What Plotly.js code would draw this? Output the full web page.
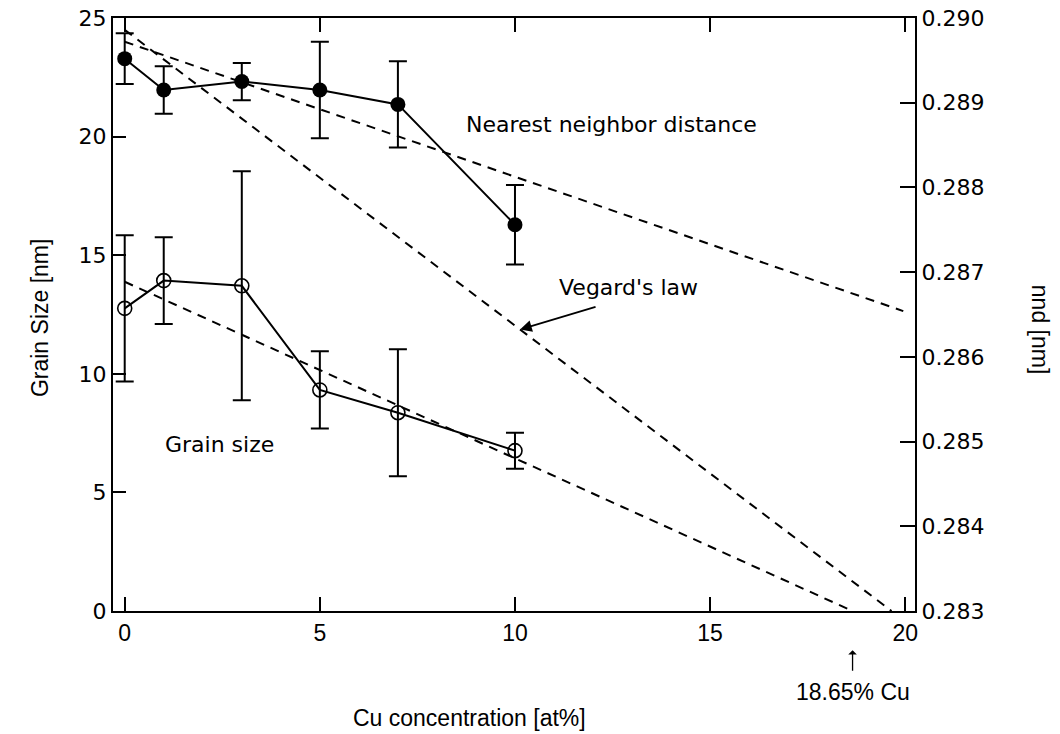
<!DOCTYPE html>
<html>
<head>
<meta charset="utf-8">
<script src="https://cdn.plot.ly/plotly-3.0.1.min.js"></script>
<style>
  html, body { margin: 0; padding: 0; background: #fff; }
  #chart { width: 1060px; height: 734px; }
</style>
</head>
<body>
<div id="chart"></div>
<script>
// Cu concentration of the measured samples [at%]
const cuConc = [0, 1, 3, 5, 7, 10];

// Nearest neighbor distance (right axis) and its error [nm]
const nndVal = [0.28952, 0.28915, 0.28925, 0.28915, 0.28898, 0.28756];
const nndErr = [0.00030, 0.00028, 0.00022, 0.00057, 0.00051, 0.00047];

// Grain size (left axis) and its error [nm]
const grainVal = [12.76, 13.93, 13.71, 9.32, 8.36, 6.76];
const grainErr = [3.08, 1.83, 4.83, 1.63, 2.68, 0.76];

// Linear trend of the nearest neighbor distance
const nndFitX = [0, 19.95];
const nndFitY = [0.28972, 0.28654];

// Vegard's law prediction of the nearest neighbor distance
const vegardX = [0, 19.65];
const vegardY = [0.28986, 0.28300];

// Linear trend of the grain size, reaching zero at 18.65 at% Cu
const grainFitX = [0, 18.65];
const grainFitY = [13.88, 0];
const zeroGrainCu = 18.65;

// Point on the Vegard's law line where the label arrow lands
const vegardArrowX = 10.13;

const FONT = 'DejaVu Sans, Verdana, sans-serif';
const NARROW = 'Liberation Sans Narrow, Liberation Sans, Arial, sans-serif';
const dashStyle = { color: '#000', width: 2, dash: '9px,7px' };

function lineAt(xs, ys, x) {
  const t = (x - xs[0]) / (xs[1] - xs[0]);
  return ys[0] + t * (ys[1] - ys[0]);
}

const traces = [
  { x: nndFitX, y: nndFitY, yaxis: 'y2', mode: 'lines', line: dashStyle, hoverinfo: 'skip' },
  { x: vegardX, y: vegardY, yaxis: 'y2', mode: 'lines', line: dashStyle, hoverinfo: 'skip' },
  { x: grainFitX, y: grainFitY, yaxis: 'y', mode: 'lines', line: dashStyle, hoverinfo: 'skip' },
  {
    x: cuConc, y: grainVal, yaxis: 'y', mode: 'lines+markers',
    line: { color: '#000', width: 2 },
    marker: { symbol: 'circle-open', size: 14, color: '#000', line: { width: 1.6, color: '#000' } },
    error_y: { type: 'data', array: grainErr, visible: true, color: '#000', thickness: 2, width: 9 }
  },
  {
    x: cuConc, y: nndVal, yaxis: 'y2', mode: 'lines+markers',
    line: { color: '#000', width: 2 },
    marker: { symbol: 'circle', size: 15, color: '#000' },
    error_y: { type: 'data', array: nndErr, visible: true, color: '#000', thickness: 2, width: 9 }
  }
];

function label(text, xref, yref, x, y, font, extra) {
  return Object.assign({
    text: text, xref: xref, yref: yref, x: x, y: y,
    xanchor: 'center', yanchor: 'middle', showarrow: false, font: font
  }, extra || {});
}

const layout = {
  width: 1060,
  height: 734,
  margin: { l: 113, r: 145, t: 18, b: 123 },
  paper_bgcolor: '#fff',
  plot_bgcolor: '#fff',
  showlegend: false,
  font: { family: FONT, color: '#000', size: 22 },
  xaxis: {
    range: [-0.3, 20.25],
    tickvals: [0, 5, 10, 15, 20],
    ticktext: ['0', '5', '10', '15', '20'],
    ticks: 'inside', ticklen: 14, tickwidth: 2, tickcolor: '#000',
    showline: true, linewidth: 2, linecolor: '#000', mirror: 'ticks',
    showgrid: false, zeroline: false,
    tickfont: { family: NARROW, size: 23, color: '#000' }
  },
  yaxis: {
    range: [0, 25],
    tickvals: [0, 5, 10, 15, 20, 25],
    ticks: 'inside', ticklen: 13, tickwidth: 2, tickcolor: '#000',
    showline: true, linewidth: 2, linecolor: '#000',
    showgrid: false, zeroline: false,
    tickfont: { family: FONT, size: 22, color: '#000' }
  },
  yaxis2: {
    overlaying: 'y', side: 'right',
    range: [0.283, 0.290],
    tickvals: [0.283, 0.284, 0.285, 0.286, 0.287, 0.288, 0.289, 0.290],
    tickformat: '.3f',
    ticks: 'inside', ticklen: 15, tickwidth: 2, tickcolor: '#000',
    showline: true, linewidth: 2, linecolor: '#000',
    showgrid: false, zeroline: false,
    tickfont: { family: FONT, size: 22, color: '#000' }
  },
  annotations: [
    label('Nearest neighbor distance', 'x', 'y', 12.48, 20.53, { family: FONT, size: 22 }),
    label('Grain size', 'x', 'y', 2.42, 7.04, { family: FONT, size: 22 }),
    label("Vegard's law", 'x', 'y', 12.92, 13.62, { family: FONT, size: 22 }),
    {
      text: '', xref: 'x', yref: 'y2', x: vegardArrowX, y: lineAt(vegardX, vegardY, vegardArrowX),
      showarrow: true, ax: 77, ay: -23, arrowhead: 2, arrowsize: 1.3, arrowwidth: 1.8,
      arrowcolor: '#000', standoff: 0
    },
    {
      text: '', xref: 'x', yref: 'paper', x: zeroGrainCu, y: -0.066,
      showarrow: true, ax: 0, ay: 22, arrowhead: 1, arrowsize: 1.1, arrowwidth: 1.3,
      arrowcolor: '#000', standoff: 0
    },
    label(zeroGrainCu + '% Cu', 'x', 'paper', zeroGrainCu, -0.137, { family: NARROW, size: 23 }),
    label('Cu concentration [at%]', 'paper', 'paper', 0.445, -0.18, { family: NARROW, size: 23 }),
    label('Grain Size [nm]', 'paper', 'paper', -0.091, 0.494, { family: NARROW, size: 23 },
      { textangle: -90 }),
    label('nnd [nm]', 'paper', 'paper', 1.156, 0.474, { family: NARROW, size: 23 },
      { textangle: 90 })
  ]
};

Plotly.newPlot('chart', traces, layout, { staticPlot: true, displayModeBar: false });
</script>
</body>
</html>
